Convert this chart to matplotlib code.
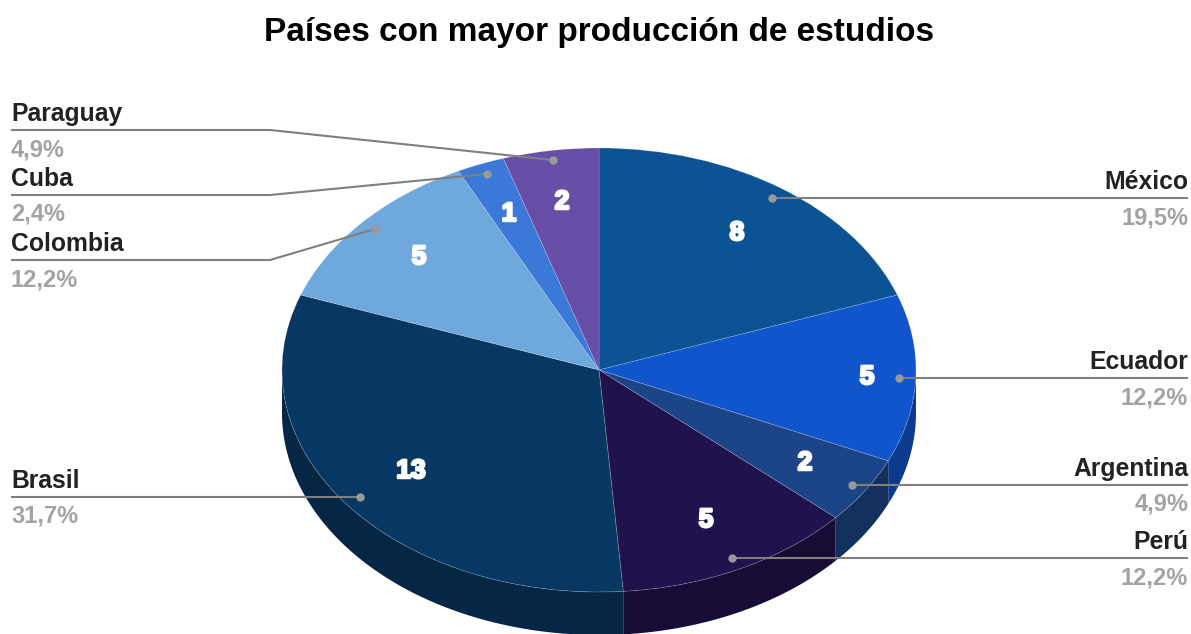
import numpy as np
import matplotlib
matplotlib.use('Agg')
import matplotlib.pyplot as plt
import matplotlib.patheffects as pe

# Data, clockwise from 12 o'clock
paises = ['México', 'Ecuador', 'Argentina', 'Perú', 'Brasil', 'Colombia', 'Cuba', 'Paraguay']
estudios = [8, 5, 2, 5, 13, 5, 1, 2]
porcentajes = ['19,5%', '12,2%', '4,9%', '12,2%', '31,7%', '12,2%', '2,4%', '4,9%']
colores = ['#0b5394', '#1155cc', '#1c4587', '#20124d', '#073763', '#6fa8dc', '#3c78d8', '#674ea7']
colores_lado = ['#083a68', '#0b3b8f', '#13305e', '#160c36', '#052645', '#4d769a', '#2a5497', '#483674']

plt.rcParams['font.family'] = ['Liberation Sans', 'DejaVu Sans']

W, H = 1191, 634
CX, CY = 599, 370
RX, RY = 317, 222
DEPTH = 43


# the axes is scaled so the unit pie becomes the flattened ellipse
def px(x):
    return (x - CX) / RX


def py(y):
    return (CY - y) / RY


fig = plt.figure(figsize=(W / 100, H / 100), dpi=100)
ax = fig.add_axes([0, 0, 1, 1])

# Side wall of the pie
d = DEPTH / RY
limites = 90 - 360 * np.cumsum([0] + estudios) / sum(estudios)
for i in range(len(estudios)):
    a1, a0 = limites[i], limites[i + 1]
    # only the front half is visible
    a0 = max(a0, -180)
    a1 = min(a1, 0)
    if a1 <= a0:
        continue
    t = np.radians(np.linspace(a0, a1, 80))
    xs = np.cos(t)
    ys = np.sin(t)
    ax.fill(np.r_[xs, xs[::-1]], np.r_[ys, ys[::-1] - d], color=colores_lado[i], lw=0, zorder=1)

wedges, _ = ax.pie(estudios, colors=colores, startangle=90, counterclock=False, radius=1,
                   wedgeprops={'edgecolor': (1, 1, 1, 0.2), 'linewidth': 0.6, 'zorder': 2})
ax.set_aspect('auto')
ax.set_xlim(px(0), px(W))
ax.set_ylim(py(H), py(0))

# Value labels inside the slices
pos_valor = [(737, 233), (867, 377), (805, 463), (706, 520), (411, 471), (419, 257), (509, 214), (562, 202)]
for v, (x, y) in zip(estudios, pos_valor):
    ax.text(px(x), py(y), str(v), color='white', fontsize=19, fontweight='bold', ha='center',
            va='center', zorder=5, path_effects=[pe.withStroke(linewidth=1.8, foreground='white')])

# Leader lines and outside labels: points run from the text to the dot
guias = {
    'México': [(1188, 198), (772, 198)],
    'Ecuador': [(1188, 378), (899, 378)],
    'Argentina': [(1188, 485), (852, 485)],
    'Perú': [(1188, 558), (732, 558)],
    'Brasil': [(11, 497), (360, 497)],
    'Colombia': [(11, 260), (270, 260), (375, 229)],
    'Cuba': [(11, 195), (270, 195), (487, 174)],
    'Paraguay': [(11, 130), (270, 130), (553, 160)],
}
for nombre, pct in zip(paises, porcentajes):
    pts = guias[nombre]
    xs = [px(p[0]) for p in pts]
    ys = [py(p[1]) for p in pts]
    ax.plot(xs, ys, color='#7f7f7f', lw=1.5, zorder=6, solid_capstyle='butt')
    ax.plot(xs[-1], ys[-1], 'o', color='#999999', ms=6, mew=0, zorder=7)
    derecha = pts[0][0] > CX
    ha = 'right' if derecha else 'left'
    x0 = xs[0]
    y0 = pts[0][1]
    ax.text(x0, py(y0 - 4), nombre, color='#222222', fontsize=17.8, fontweight='bold', ha=ha, va='bottom', zorder=8)
    ax.text(x0, py(y0 + 8), pct, color='#a3a3a3', fontsize=17, fontweight='bold', ha=ha, va='top', zorder=8)

ax.text(px(599), py(32), 'Países con mayor producción de estudios', color='black', fontsize=24,
        fontweight='bold', ha='center', va='center')

ax.axis('off')
fig.savefig('out.png', dpi=100)
